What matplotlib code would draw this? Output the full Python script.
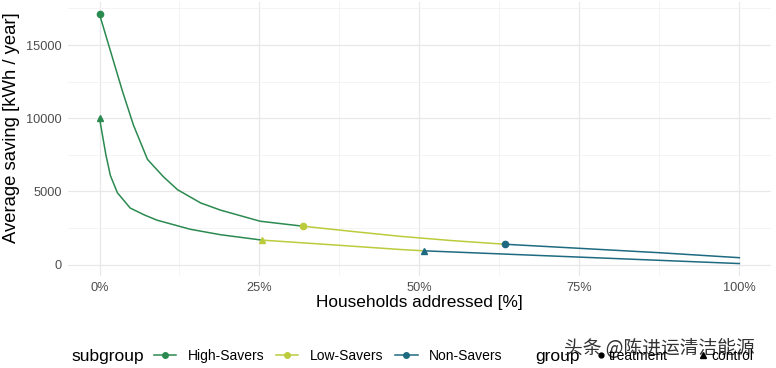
import matplotlib.pyplot as plt
from matplotlib.lines import Line2D
from matplotlib.ticker import MultipleLocator, FuncFormatter

plt.rcParams['font.family'] = ['Liberation Sans', 'DejaVu Sans']

# treatment curve (circles), split by subgroup
treat_high_x = [0, 3.6, 5.3, 7.5, 10.0, 12.2, 15.8, 18.9, 25.1, 31.8]
treat_high_y = [17100, 11830, 9540, 7190, 6000, 5120, 4220, 3730, 2970, 2630]
treat_low_x = [31.8, 40, 47, 55, 63.3]
treat_low_y = [2630, 2250, 1940, 1650, 1400]
treat_non_x = [63.3, 75, 87.5, 100]
treat_non_y = [1400, 1120, 820, 480]

# control curve (triangles)
ctrl_high_x = [0, 1.0, 1.7, 2.8, 4.8, 7.0, 9.0, 14.2, 18.9, 25.4]
ctrl_high_y = [10000, 7500, 6090, 4910, 3870, 3400, 3040, 2420, 2050, 1680]
ctrl_low_x = [25.4, 35, 47, 50.7]
ctrl_low_y = [1680, 1400, 1040, 950]
ctrl_non_x = [50.7, 75, 100]
ctrl_non_y = [950, 520, 80]

subgroups = ['High-Savers', 'Low-Savers', 'Non-Savers']
colors = ['#2b8a50', '#bccb3c', '#1e6a80']

fig = plt.figure(figsize=(7.76, 3.68), dpi=100)
ax = fig.add_axes([0.087, 0.25, 0.907, 0.745])

treat = [(treat_high_x, treat_high_y), (treat_low_x, treat_low_y), (treat_non_x, treat_non_y)]
ctrl = [(ctrl_high_x, ctrl_high_y), (ctrl_low_x, ctrl_low_y), (ctrl_non_x, ctrl_non_y)]
for (x, y), c in zip(treat, colors):
    ax.plot(x, y, color=c, lw=1.1)
    ax.plot(x[0], y[0], 'o', color=c, ms=4.5)
for (x, y), c in zip(ctrl, colors):
    ax.plot(x, y, color=c, lw=1.1)
    ax.plot(x[0], y[0], '^', color=c, ms=5)

ax.set_xlim(-5, 105)
ax.set_ylim(-770, 17950)
ax.xaxis.set_major_locator(MultipleLocator(25))
ax.xaxis.set_minor_locator(MultipleLocator(12.5))
ax.yaxis.set_major_locator(MultipleLocator(5000))
ax.yaxis.set_minor_locator(MultipleLocator(2500))
ax.xaxis.set_major_formatter(FuncFormatter(lambda v, p: '%d%%' % v))
ax.grid(which='major', color='#e8e8e8', lw=0.9)
ax.grid(which='minor', color='#f2f2f2', lw=0.6)
ax.set_axisbelow(True)
for s in ax.spines.values():
    s.set_visible(False)
ax.tick_params(which='both', length=0, labelsize=9.2, labelcolor='#4d4d4d', pad=4)
ax.set_xlabel('Households addressed [%]', fontsize=12.4, labelpad=1)
ax.set_ylabel('Average saving [kWh / year]', fontsize=13.3)
ax.yaxis.set_label_coords(-0.068, 0.54)

# legends
ly = 1 - 356 / 368
fig.text(71 / 776, ly, 'subgroup', fontsize=12.5, va='center')
h1 = [Line2D([], [], color=c, marker='o', ms=4, lw=1.1) for c in colors]
fig.legend(h1, subgroups, loc='center left', bbox_to_anchor=(141 / 776, ly),
           ncol=3, frameon=False, fontsize=10, handlelength=1.6, columnspacing=0.85,
           handletextpad=0.85)
fig.text(535 / 776, ly, 'group', fontsize=12.5, va='center')
h2 = [Line2D([], [], color='black', marker='o', ms=3.5, lw=0),
      Line2D([], [], color='black', marker='^', ms=4, lw=0)]
fig.legend(h2, ['treatment', 'control'], loc='center left', bbox_to_anchor=(584 / 776, ly),
           ncol=2, frameon=False, fontsize=10, handlelength=0.6, columnspacing=2.2,
           handletextpad=0.3)

fig.text(564 / 776, 1 - 349 / 368, '头条 @陈进运清洁能源', fontsize=13.5, color='#333333',
         va='center', family=['Noto Sans CJK SC', 'DejaVu Sans'])

fig.savefig('out.png', dpi=100)
